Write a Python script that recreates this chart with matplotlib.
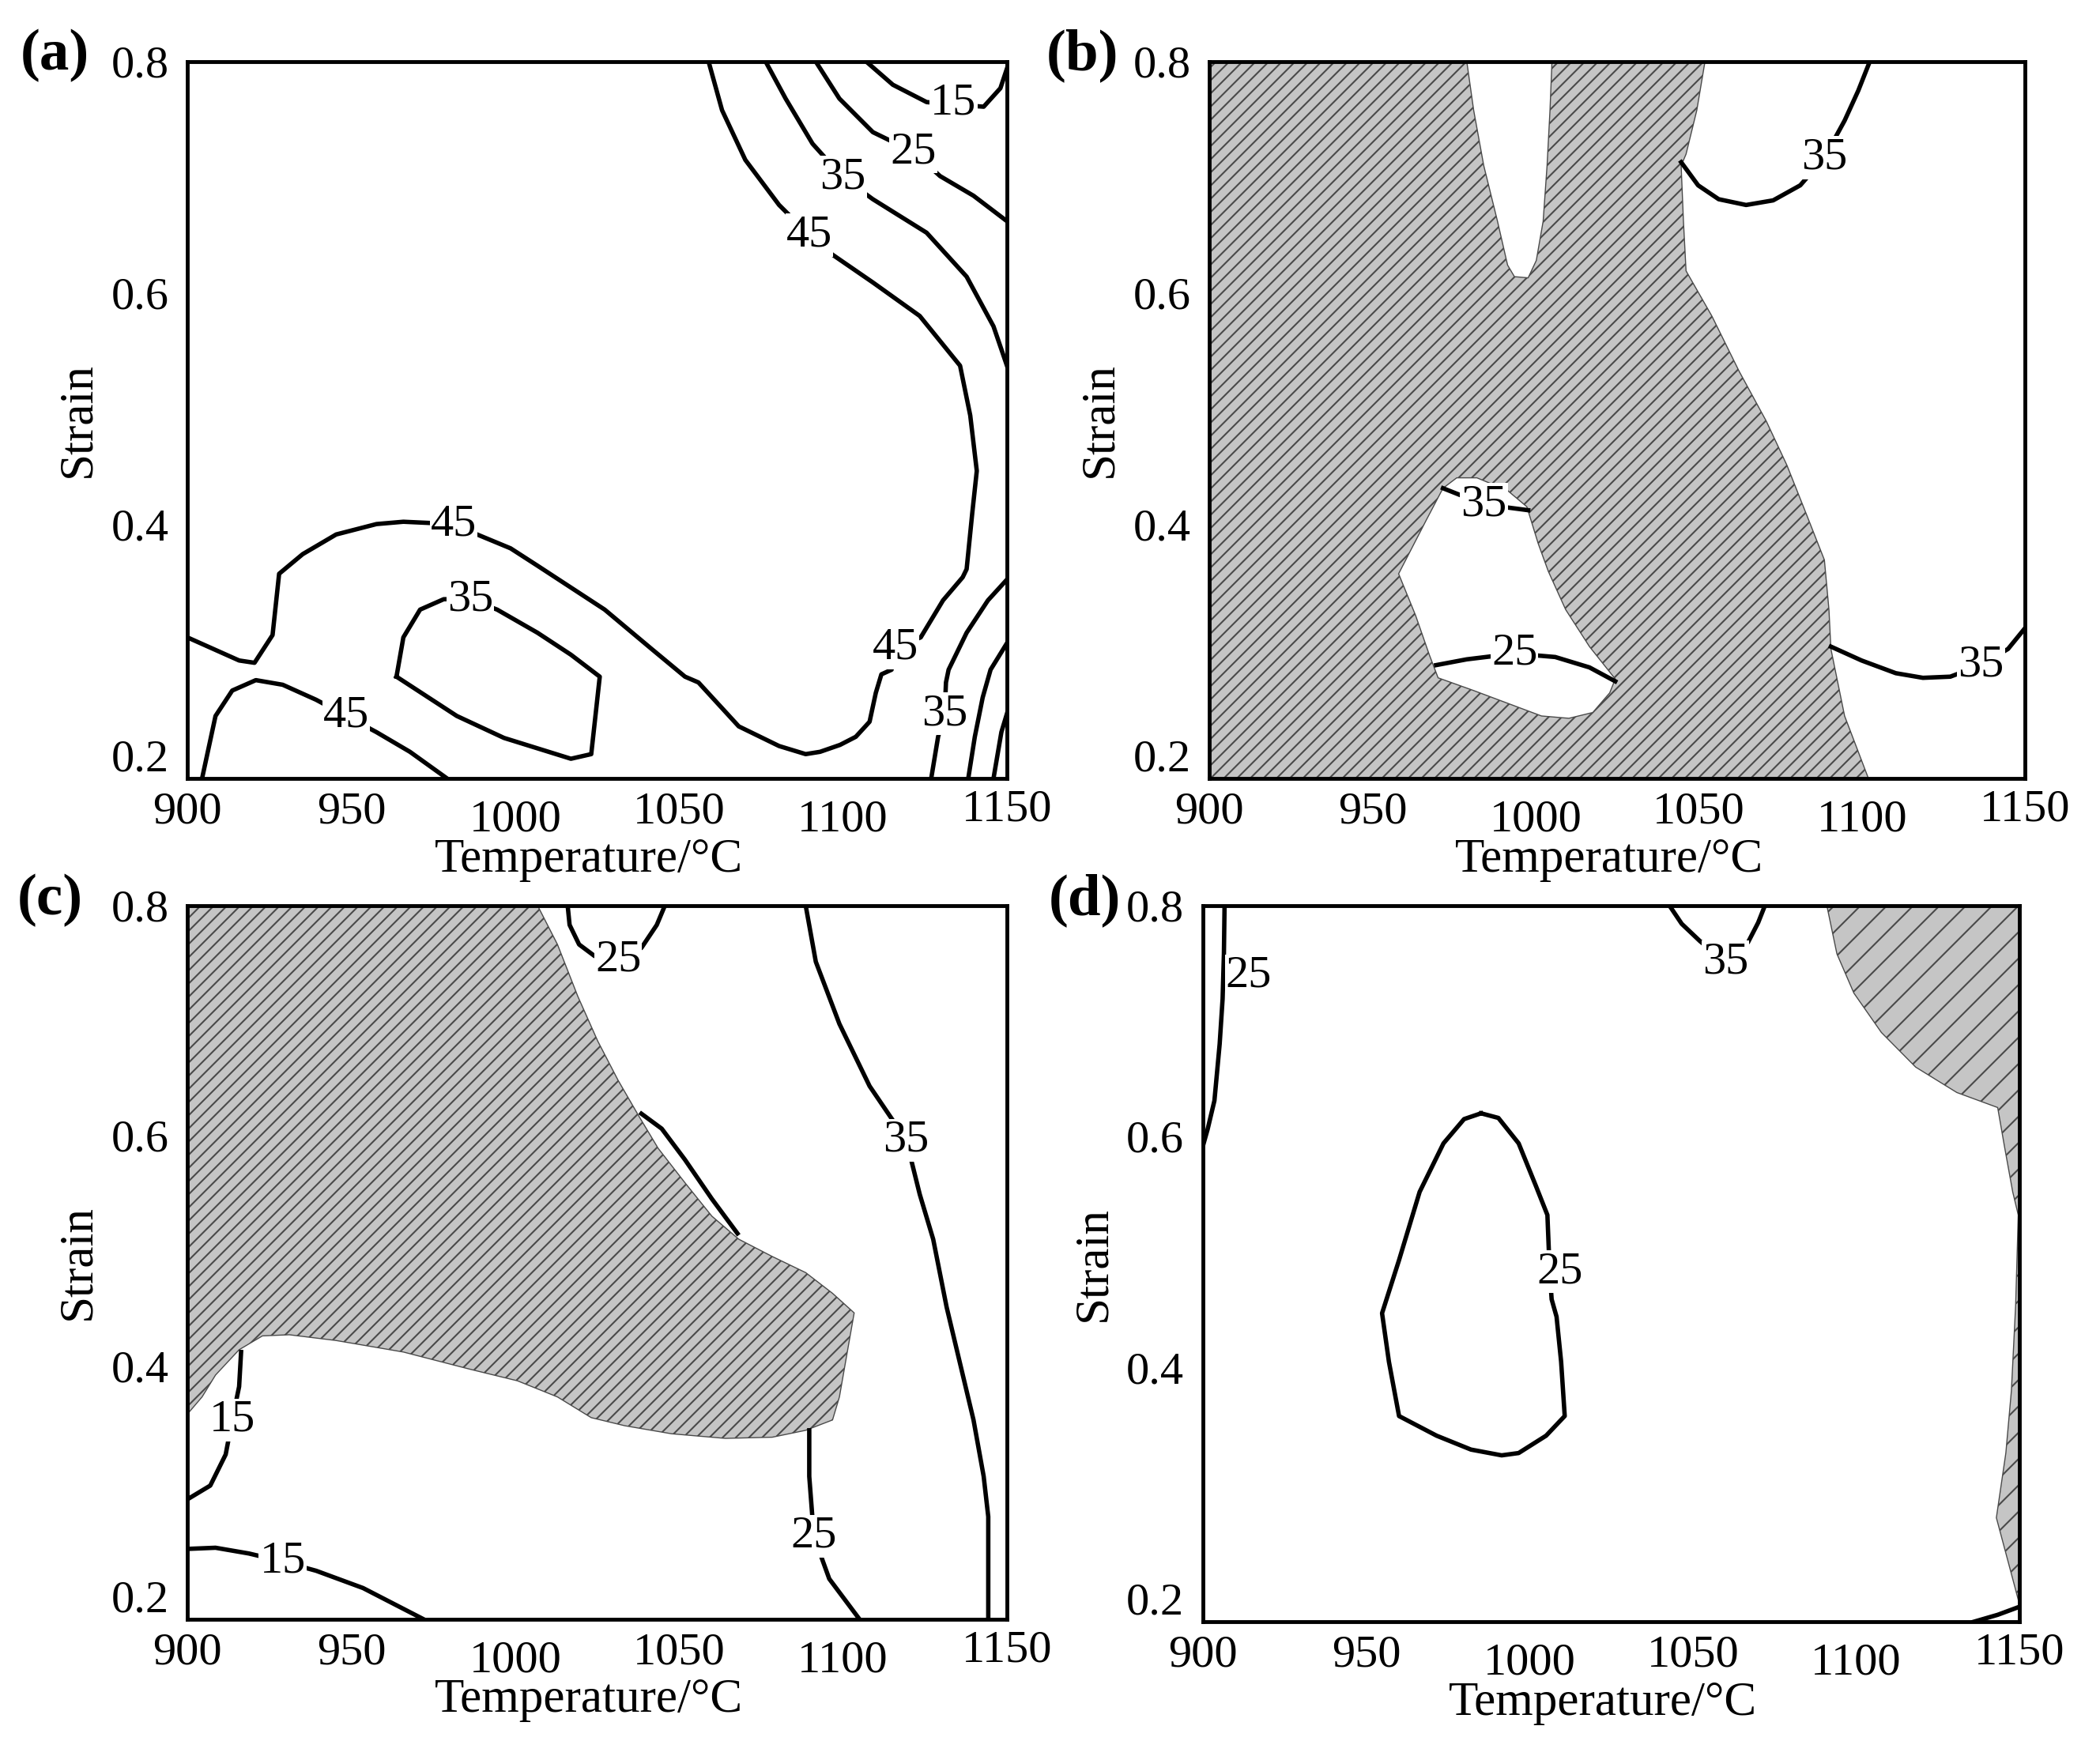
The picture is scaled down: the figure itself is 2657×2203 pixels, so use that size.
import matplotlib.pyplot as plt
from matplotlib.transforms import ScaledTranslation

plt.rcParams['font.family'] = 'Liberation Serif'
plt.rcParams['hatch.linewidth'] = 1.5

T_TICKS = [900, 950, 1000, 1050, 1100, 1150]
S_TICKS = [0.2, 0.4, 0.6, 0.8]
T_RANGE = (900, 1150)
S_RANGE = (0.18, 0.8)

# ---- (a) power dissipation efficiency contours, (temperature, strain)
a_15_top = [(1107.1, 0.800), (1115.2, 0.780), (1125.5, 0.765), (1133.7, 0.763),
            (1142.9, 0.761), (1148.0, 0.777), (1150.0, 0.794)]
a_25_top = [(1091.7, 0.800), (1098.9, 0.768), (1109.1, 0.739), (1121.4, 0.722),
            (1129.6, 0.701), (1139.8, 0.684), (1150.0, 0.662)]
a_35_top = [(1076.4, 0.800), (1082.5, 0.768), (1090.7, 0.729), (1099.9, 0.700),
            (1109.1, 0.681), (1125.5, 0.652), (1137.7, 0.614), (1145.9, 0.571),
            (1150.0, 0.537)]
a_45_main = [(1059.0, 0.800), (1063.1, 0.758), (1070.2, 0.715), (1080.5, 0.676),
             (1089.7, 0.650), (1096.8, 0.633), (1109.1, 0.609), (1123.4, 0.580),
             (1135.7, 0.537), (1138.8, 0.494), (1140.8, 0.446), (1139.4, 0.409),
             (1137.7, 0.361), (1136.5, 0.354), (1130.5, 0.334), (1123.7, 0.302),
             (1116.0, 0.293), (1114.8, 0.274), (1111.7, 0.270), (1110.0, 0.254),
             (1108.1, 0.229), (1103.9, 0.216), (1099.1, 0.209), (1093.0, 0.203),
             (1088.6, 0.201), (1080.5, 0.208), (1068.2, 0.225), (1055.9, 0.263),
             (1051.8, 0.268), (1041.6, 0.292), (1027.3, 0.326), (1006.8, 0.364),
             (998.6, 0.379), (988.4, 0.391), (981.2, 0.400), (965.9, 0.402),
             (957.7, 0.400), (945.4, 0.391), (935.2, 0.374), (928.0, 0.357),
             (926.0, 0.304), (920.5, 0.280), (915.8, 0.282), (900.0, 0.302)]
a_35_loop = [(963.8, 0.268), (965.9, 0.302), (971.0, 0.326), (978.2, 0.335),
             (986.3, 0.335), (994.5, 0.326), (1006.8, 0.306), (1017.0, 0.287),
             (1025.8, 0.268), (1023.2, 0.201), (1017.0, 0.197), (1006.8, 0.206),
             (996.6, 0.215), (982.2, 0.234), (963.8, 0.268)]
a_45_low = [(904.5, 0.180), (908.6, 0.234), (913.7, 0.256), (920.9, 0.265),
            (929.1, 0.261), (939.3, 0.248), (948.5, 0.234), (957.7, 0.220),
            (967.9, 0.203), (979.2, 0.180)]
a_35_br = [(1150.0, 0.352), (1144.2, 0.334), (1137.7, 0.306), (1132.2, 0.274),
           (1131.4, 0.263), (1131.0, 0.236), (1129.0, 0.216), (1126.9, 0.180)]
a_25_br = [(1150.0, 0.297), (1145.0, 0.274), (1142.6, 0.250), (1140.2, 0.216),
           (1138.2, 0.180)]
a_15_br = [(1150.0, 0.236), (1148.3, 0.220), (1145.9, 0.180)]
a_labels = [(1133.7, 0.764, "15"), (1121.4, 0.722, "25"), (1099.9, 0.700, "35"),
            (1089.7, 0.650, "45"), (981.2, 0.400, "45"), (986.3, 0.335, "35"),
            (948.5, 0.234, "45"), (1116.0, 0.293, "45"), (1131.0, 0.236, "35")]

# ---- (b)
b_unstable = [(900.0, 0.800), (978.9, 0.800), (981.0, 0.758), (984.1, 0.710),
              (988.3, 0.662), (991.4, 0.624), (993.5, 0.614), (997.7, 0.613),
              (1000.2, 0.628), (1002.3, 0.662), (1003.5, 0.710), (1004.4, 0.758),
              (1005.0, 0.800), (1051.9, 0.800), (1049.4, 0.758), (1046.1, 0.720),
              (1044.6, 0.710), (1045.3, 0.662), (1046.1, 0.619), (1054.0, 0.580),
              (1062.4, 0.532), (1070.7, 0.489), (1077.0, 0.451), (1083.2, 0.407),
              (1088.5, 0.369), (1089.9, 0.326), (1090.5, 0.292), (1094.7, 0.234),
              (1102.0, 0.180), (900.0, 0.180)]
b_stable_hole = [(971.6, 0.431), (975.8, 0.440), (982.0, 0.440), (991.4, 0.429),
                 (997.3, 0.415), (1000.8, 0.383), (1003.9, 0.359), (1009.2, 0.326),
                 (1016.5, 0.294), (1024.4, 0.266), (1022.7, 0.254), (1017.5, 0.237),
                 (1010.2, 0.232), (1001.8, 0.234), (991.4, 0.245), (981.0, 0.256),
                 (970.1, 0.267), (967.4, 0.287), (963.2, 0.321), (958.0, 0.357),
                 (961.1, 0.374), (966.4, 0.403), (971.6, 0.431)]
b_35_top = [(1044.6, 0.713), (1049.8, 0.693), (1056.1, 0.681), (1064.5, 0.676),
            (1072.8, 0.680), (1081.1, 0.693), (1088.5, 0.717), (1094.7, 0.749),
            (1098.9, 0.775), (1102.4, 0.800)]
b_35_right = [(1090.5, 0.294), (1099.9, 0.282), (1110.4, 0.271), (1118.7, 0.267),
              (1127.1, 0.268), (1136.5, 0.278), (1144.8, 0.292), (1150.0, 0.310)]
b_25_hole = [(969.5, 0.278), (978.9, 0.283), (993.5, 0.288), (1006.0, 0.285),
             (1016.5, 0.276), (1024.4, 0.264)]
b_35_hole = [(971.6, 0.431), (984.1, 0.417), (997.7, 0.412)]
b_labels = [(1088.5, 0.717, "35"), (984.1, 0.417, "35"), (993.5, 0.288, "25"),
            (1136.5, 0.278, "35")]

# ---- (c)
c_unstable = [(900.0, 0.800), (1006.8, 0.800), (1012.9, 0.766), (1019.1, 0.721),
              (1025.2, 0.682), (1031.4, 0.648), (1037.5, 0.618), (1043.6, 0.589),
              (1051.8, 0.559), (1060.0, 0.530), (1068.2, 0.510), (1078.4, 0.495),
              (1088.6, 0.481), (1096.8, 0.463), (1103.4, 0.446), (1101.3, 0.412),
              (1098.9, 0.373), (1096.8, 0.353), (1088.6, 0.344), (1078.4, 0.338),
              (1064.1, 0.337), (1047.7, 0.341), (1033.4, 0.348), (1023.2, 0.355),
              (1012.9, 0.373), (1000.7, 0.387), (986.3, 0.397), (965.9, 0.412),
              (945.4, 0.422), (931.1, 0.427), (922.9, 0.426), (915.8, 0.414),
              (908.6, 0.392), (904.5, 0.373), (900.0, 0.358)]
c_edge_line = [(1038.5, 0.619), (1044.7, 0.606), (1051.8, 0.579), (1060.0, 0.545),
               (1067.8, 0.515)]
c_25_top = [(1016.0, 0.800), (1016.6, 0.783), (1019.5, 0.766), (1024.2, 0.756),
            (1031.4, 0.753), (1038.5, 0.763), (1043.2, 0.783), (1045.7, 0.800)]
c_35 = [(1088.6, 0.800), (1091.7, 0.751), (1098.9, 0.697), (1108.1, 0.643),
        (1119.3, 0.596), (1123.4, 0.549), (1127.5, 0.510), (1131.6, 0.451),
        (1135.7, 0.402), (1139.8, 0.353), (1142.9, 0.304), (1144.3, 0.269),
        (1144.3, 0.180)]
c_25_low = [(1089.7, 0.344), (1089.7, 0.304), (1091.1, 0.252), (1095.8, 0.215),
            (1105.0, 0.180)]
c_15_left = [(916.4, 0.412), (915.8, 0.382), (913.7, 0.353), (911.7, 0.323),
             (907.0, 0.296), (900.0, 0.284)]
c_15_low = [(900.0, 0.241), (908.6, 0.242), (918.8, 0.237), (929.1, 0.230),
            (939.3, 0.222), (953.6, 0.207), (972.0, 0.180)]
c_labels = [(1031.4, 0.753, "25"), (1119.3, 0.596, "35"), (913.7, 0.353, "15"),
            (1091.1, 0.252, "25"), (929.1, 0.230, "15")]

# ---- (d)
d_unstable = [(1091.0, 0.800), (1094.1, 0.758), (1099.3, 0.724), (1107.7, 0.690),
              (1118.2, 0.660), (1130.8, 0.638), (1143.3, 0.625), (1145.4, 0.591),
              (1147.9, 0.552), (1149.6, 0.532), (1148.8, 0.454), (1147.5, 0.380),
              (1145.8, 0.326), (1142.9, 0.270), (1146.4, 0.233), (1149.6, 0.199),
              (1150.0, 0.199), (1150.0, 0.800)]
d_25_left = [(906.7, 0.800), (906.5, 0.758), (906.1, 0.719), (905.2, 0.680),
             (903.6, 0.631), (901.5, 0.606), (900.0, 0.591)]
d_35_top = [(1042.8, 0.800), (1046.6, 0.784), (1052.2, 0.769), (1060.0, 0.751),
            (1066.9, 0.768), (1070.0, 0.785), (1072.1, 0.800)]
d_25_loop = [(985.2, 0.620), (980.0, 0.615), (973.7, 0.594), (966.4, 0.552),
             (960.1, 0.493), (954.9, 0.447), (957.0, 0.405), (960.1, 0.358),
             (971.6, 0.341), (982.1, 0.329), (991.5, 0.324), (996.7, 0.326),
             (1005.1, 0.341), (1010.8, 0.358), (1009.7, 0.405), (1008.3, 0.444),
             (1006.8, 0.459), (1006.2, 0.483), (1005.5, 0.532), (1002.0, 0.557),
             (996.7, 0.594), (990.5, 0.616), (985.2, 0.620)]
d_corner = [(1136.0, 0.180), (1143.3, 0.186), (1150.0, 0.193)]
d_labels = [(914.1, 0.739, "25"), (1060.0, 0.751, "35"), (1009.3, 0.483, "25")]

PANELS = [
    ("(a)", [0.0892, 0.5529, 0.3903, 0.4117], (0.026, 0.968),
     [a_15_top, a_25_top, a_35_top, a_45_main, a_35_loop, a_45_low,
      a_35_br, a_25_br, a_15_br], a_labels, [], [], None),
    ("(b)", [0.5759, 0.5529, 0.3884, 0.4117], (0.5156, 0.968),
     [b_35_top, b_35_right, b_25_hole, b_35_hole], b_labels,
     [b_unstable], [b_stable_hole], "//"),
    ("(c)", [0.0892, 0.0700, 0.3903, 0.4100], (0.024, 0.483),
     [c_edge_line, c_25_top, c_35, c_25_low, c_15_left, c_15_low], c_labels,
     [c_unstable], [], "//"),
    ("(d)", [0.5727, 0.0685, 0.3890, 0.4115], (0.5166, 0.483),
     [d_25_left, d_35_top, d_25_loop, d_corner], d_labels,
     [d_unstable], [], "/"),
]

LABEL_DROP = [0, 0, 7, 0, 7, -2]  # staggered x tick labels, points

fig = plt.figure(figsize=(26.57, 22.03), dpi=100)

for tag, rect, tag_xy, lines, labels, unstable, holes, hatch in PANELS:
    ax = fig.add_axes(rect)

    for poly in unstable:
        T, S = zip(*poly)
        ax.fill(T, S, facecolor="#c5c5c5", edgecolor="#4a4a4a", hatch=hatch,
                linewidth=1.0, zorder=1)
    for poly in holes:
        T, S = zip(*poly)
        ax.fill(T, S, facecolor="white", edgecolor="#4a4a4a", linewidth=1.0, zorder=1.5)

    for line in lines:
        T, S = zip(*line)
        ax.plot(T, S, color="black", lw=4.0, zorder=2, solid_joinstyle="round")

    for T, S, txt in labels:
        ax.text(T, S, txt, ha="center", va="center", fontsize=42, zorder=3,
                bbox=dict(boxstyle="square,pad=0.02", fc="white", ec="none"))

    ax.set_xlim(*T_RANGE)
    ax.set_ylim(*S_RANGE)
    ax.set_xticks(T_TICKS)
    ax.set_yticks(S_TICKS)
    ax.set_yticklabels([f"{s:.1f}" for s in S_TICKS])
    ax.tick_params(axis="both", length=0, labelsize=42)
    ax.tick_params(axis="x", pad=12)
    ax.tick_params(axis="y", pad=17)
    for sp in ax.spines.values():
        sp.set_linewidth(3.5)
        sp.set_zorder(4)

    ax.set_xlabel("Temperature/°C", fontsize=44)
    ax.set_ylabel("Strain", fontsize=44)
    ax.xaxis.set_label_coords(0.49, -0.083)
    ax.yaxis.set_label_coords(-0.107, 0.5)

    for drop, lab in zip(LABEL_DROP, ax.get_xticklabels()):
        lab.set_transform(lab.get_transform() +
                          ScaledTranslation(0, -drop / 72, fig.dpi_scale_trans))

    fig.text(tag_xy[0], tag_xy[1], tag, fontsize=54, fontweight="bold",
             ha="center", va="center")

fig.savefig("out.png", dpi=100)
